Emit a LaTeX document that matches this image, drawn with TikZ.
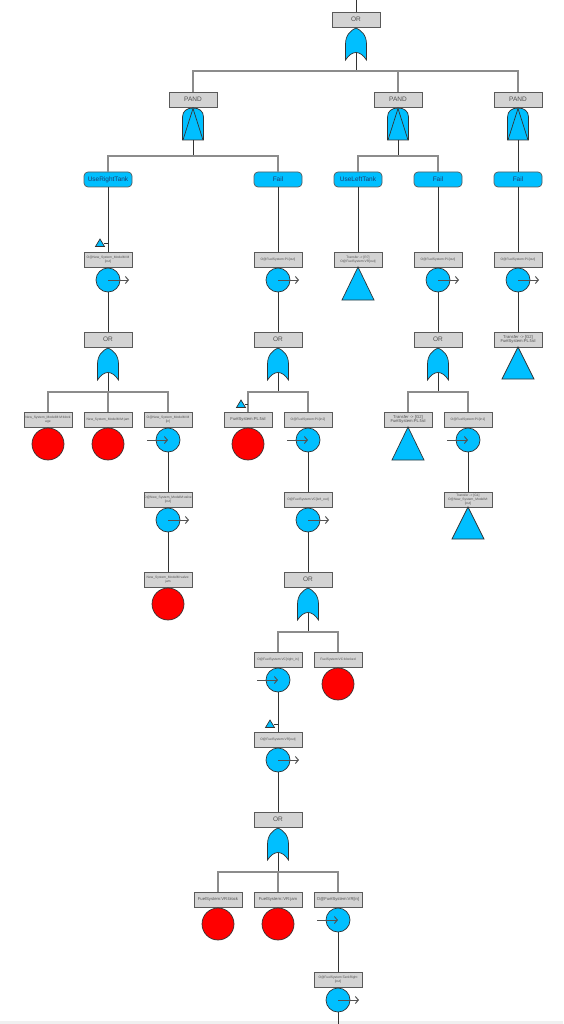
\documentclass[tikz,border=0pt]{standalone}
\usepackage{fontspec}
\setmainfont{Liberation Sans}
\usetikzlibrary{arrows.meta}
\definecolor{gbox}{HTML}{D3D3D3}
\definecolor{blu}{HTML}{00BFFF}
\definecolor{rd}{HTML}{FF0000}
\definecolor{ln}{HTML}{333333}
\definecolor{barc}{HTML}{8C8C8C}
\definecolor{bdr}{HTML}{5A5A5A}
\definecolor{txg}{HTML}{505050}
\definecolor{txb}{HTML}{1C3D6E}
\tikzset{
 gatelbl/.style={draw=bdr, fill=gbox, line width=0.7pt, minimum width=48pt, minimum height=15pt, inner sep=0pt, font=\fontsize{6.5}{7}\selectfont, text=txg},
 evlbl/.style={gatelbl, font=\fontsize{4.2}{4.8}\selectfont, align=center},
 tinylbl/.style={gatelbl, font=\fontsize{3.3}{3.9}\selectfont, align=center},
 condbox/.style={draw=bdr, fill=blu, line width=0.7pt, rounded corners=4pt, minimum width=48pt, minimum height=15pt, inner sep=0pt, font=\fontsize{6.5}{7}\selectfont, text=txb},
 basic/.style={circle, draw=ln, fill=rd, line width=0.7pt, minimum size=32pt, inner sep=0pt},
 port/.style={circle, draw=ln, fill=blu, line width=0.7pt, minimum size=24pt, inner sep=0pt},
 trif/.style={draw=ln, fill=blu, line width=0.7pt, line join=miter},
 stem/.style={draw=ln, line width=1pt},
 barl/.style={draw=barc, line width=1.1pt},
 arr/.style={draw=ln!85, line width=1pt, -{Straight Barb[length=3pt,width=7pt,line width=1pt]}},
 orgate/.pic={\path[draw=ln, fill=blu, line width=0.7pt] (-10.5,32) -- (-10.5,16) .. controls (-10.5,7) and (-5,2) .. (0,0) .. controls (5,2) and (10.5,7) .. (10.5,16) -- (10.5,32) .. controls (4,22) and (-4,22) .. (-10.5,32) -- cycle; \coordinate (-out) at (0,24.5);},
 pandgate/.pic={\path[draw=ln, fill=blu, line width=0.7pt] (-10.5,32) -- (-10.5,9) .. controls (-10.5,3) and (-6,0) .. (0,0) .. controls (6,0) and (10.5,3) .. (10.5,9) -- (10.5,32) -- cycle; \draw[ln, line width=0.7pt] (-10,32) -- (0,0.5) -- (10,32); \coordinate (-out) at (0,32);},
}
\newcommand{\xfertri}[3]{\path[trif] (#1,#2) -- (#1+16,#3) -- (#1-16,#3) -- cycle;}
\newcommand{\mktri}[2]{\path[trif] (#1,#2-4) -- (#1+4.5,#2+3.5) -- (#1-4.5,#2+3.5) -- cycle;}
\begin{document}
\begin{tikzpicture}[x=1pt,y=-1pt]
\useasboundingbox (0,0) rectangle (563,1024);
\fill[gray!12] (0,1021) rectangle (563,1024);
% ---- top OR
\coordinate (top) at (356,0);
\node[gatelbl] (T0) at (356,19.5) {OR};
\pic (g0) at (356,28) {orgate};
\draw[stem] (top) -- (T0.north);
% ---- PAND level
\node[gatelbl] (P1) at (193,99.5) {PAND};
\node[gatelbl] (P2) at (398,99.5) {PAND};
\node[gatelbl] (P3) at (518,99.5) {PAND};
\pic (gp1) at (193,108) {pandgate};
\pic (gp2) at (398,108) {pandgate};
\pic (gp3) at (518,108) {pandgate};
\coordinate (j0) at (356,71);
\draw[stem] (g0-out) -- (j0);
\draw[barl] (j0) -| (P1.north);
\draw[barl] (j0) -| (P2.north);
\draw[barl] (j0) -| (P3.north);
% ---- condition / Fail level
\node[condbox] (URT) at (108,179.5) {UseRightTank};
\node[condbox] (F1) at (278,179.5) {Fail};
\node[condbox] (ULT) at (358,179.5) {UseLeftTank};
\node[condbox] (F2) at (438,179.5) {Fail};
\node[condbox] (F3) at (518,179.5) {Fail};
\coordinate (j1) at (193,156);
\coordinate (j2) at (398,156);
\draw[stem] (gp1-out) -- (j1);
\draw[barl] (j1) -| (URT.north);
\draw[barl] (j1) -| (F1.north);
\draw[stem] (gp2-out) -- (j2);
\draw[barl] (j2) -| (ULT.north);
\draw[barl] (j2) -| (F2.north);
\draw[stem] (gp3-out) -- (F3.north);
% ---- level 3
\node[tinylbl] (B1) at (108,259.5) {O@New\_System\_ModelM:M\\{}[out]};
\node[port] (C1) at (108,280) {};
\node[tinylbl] (B2) at (278,259.5) {O@FuelSystem:P1[out]};
\node[port] (C2) at (278,280) {};
\node[tinylbl] (B3) at (358,259.5) {Transfer -> [R7]\\O@FuelSystem:VR[out]};
\xfertri{358}{267}{300}
\node[tinylbl] (B4) at (438,259.5) {O@FuelSystem:P1[out]};
\node[port] (C4) at (438,280) {};
\node[tinylbl] (B5) at (518,259.5) {O@FuelSystem:P1[out]};
\node[port] (C5) at (518,280) {};
\draw[stem] (URT.south) -- (B1.north);
\draw[stem] (F1.south) -- (B2.north);
\draw[stem] (ULT.south) -- (B3.north);
\draw[stem] (F2.south) -- (B4.north);
\draw[stem] (F3.south) -- (B5.north);
\coordinate (m1) at (104,243); \coordinate (m1e) at (108,243);
\mktri{100}{243}
\draw[stem] (m1) -- (m1e);
\draw[arr] (C1.center) -- ([xshift=21pt]C1.center);
\draw[arr] (C2.center) -- ([xshift=21pt]C2.center);
\draw[arr] (C4.center) -- ([xshift=21pt]C4.center);
\draw[arr] (C5.center) -- ([xshift=21pt]C5.center);
% ---- level 4
\node[gatelbl] (O1) at (108,339.5) {OR};
\pic (go1) at (108,348) {orgate};
\node[gatelbl] (O2) at (278,339.5) {OR};
\pic (go2) at (278,348) {orgate};
\node[gatelbl] (O4) at (438,339.5) {OR};
\pic (go4) at (438,348) {orgate};
\node[evlbl] (B5b) at (518,339.5) {Transfer -> [G2]\\FuelSystem:PL:fail};
\xfertri{518}{347}{379}
\draw[stem] (C1.south) -- (O1.north);
\draw[stem] (C2.south) -- (O2.north);
\draw[stem] (C4.south) -- (O4.north);
\draw[stem] (C5.south) -- (B5b.north);
% ---- level 5
\node[tinylbl] (E1) at (48,419.5) {New\_System\_ModelM:M:block\\age};
\node[basic] (R1) at (48,444) {};
\node[tinylbl] (E2) at (108,419.5) {New\_System\_ModelM:M:jam};
\node[basic] (R2) at (108,444) {};
\node[tinylbl] (E3) at (168,419.5) {O@New\_System\_ModelM:M\\{}[in]};
\node[port] (C3) at (168,440) {};
\node[evlbl] (E4) at (248,419.5) {FuelSystem:PL:fail};
\node[basic] (R4) at (248,444) {};
\node[tinylbl] (E5) at (308,419.5) {O@FuelSystem:P1[in2]};
\node[port] (C6) at (308,440) {};
\node[evlbl] (E6) at (408,419.5) {Transfer -> [G2]\\FuelSystem:PL:fail};
\xfertri{408}{427}{460}
\node[tinylbl] (E7) at (468,419.5) {O@FuelSystem:P1[in1]};
\node[port] (C7) at (468,440) {};
\coordinate (k1) at (108,392);
\coordinate (k2) at (278,392);
\coordinate (k4) at (438,392);
\draw[stem] (go1-out) -- (k1);
\draw[barl] (k1) -| (E1.north);
\draw[barl] (k1) -- (E2.north);
\draw[barl] (k1) -| (E3.north);
\draw[stem] (go2-out) -- (k2);
\draw[barl] (k2) -| (E4.north);
\draw[barl] (k2) -| (E5.north);
\draw[stem] (go4-out) -- (k4);
\draw[barl] (k4) -| (E6.north);
\draw[barl] (k4) -| (E7.north);
\coordinate (m2) at (245,404); \coordinate (m2e) at (248,404);
\mktri{241}{404}
\draw[stem] (m2) -- (m2e);
\draw[arr] ([xshift=-21pt]C3.center) -- (C3.center);
\draw[arr] ([xshift=-21pt]C6.center) -- (C6.center);
\draw[arr] ([xshift=-21pt]C7.center) -- (C7.center);
% ---- level 6
\node[tinylbl] (D1) at (168,499.5) {O@New\_System\_ModelM:valve\\{}[out]};
\node[port] (C8) at (168,520) {};
\node[tinylbl] (D2) at (308,499.5) {O@FuelSystem:VC[left\_out]};
\node[port] (C9) at (308,520) {};
\node[tinylbl] (D3) at (468,499.5) {Transfer -> [G1]\\O@New\_System\_ModelM:\\{}[out]};
\xfertri{468}{507}{539}
\draw[stem] (C3.south) -- (D1.north);
\draw[stem] (C6.south) -- (D2.north);
\draw[stem] (C7.south) -- (D3.north);
\draw[arr] (C8.center) -- ([xshift=21pt]C8.center);
\draw[arr] (C9.center) -- ([xshift=21pt]C9.center);
% ---- level 7
\node[tinylbl] (V1) at (168,579.5) {New\_System\_ModelM:valve:\\jam};
\node[basic] (R5) at (168,604) {};
\node[gatelbl] (O5) at (308,579.5) {OR};
\pic (go5) at (308,588) {orgate};
\draw[stem] (C8.south) -- (V1.north);
\draw[stem] (C9.south) -- (O5.north);
% ---- level 8
\node[tinylbl] (W1) at (278,659.5) {O@FuelSystem:VC[right\_in]};
\node[port] (C10) at (278,680) {};
\node[tinylbl] (W2) at (338,659.5) {FuelSystem:VC:blocked};
\node[basic] (R6) at (338,684) {};
\coordinate (k5) at (308,632);
\draw[stem] (go5-out) -- (k5);
\draw[barl] (k5) -| (W1.north);
\draw[barl] (k5) -| (W2.north);
\draw[arr] ([xshift=-21pt]C10.center) -- (C10.center);
% ---- level 9
\node[tinylbl] (X1) at (278,739.5) {O@FuelSystem:VR[out]};
\node[port] (C11) at (278,760) {};
\draw[stem] (C10.south) -- (X1.north);
\coordinate (m3) at (274,724); \coordinate (m3e) at (278,724);
\mktri{270}{724}
\draw[stem] (m3) -- (m3e);
\draw[arr] (C11.center) -- ([xshift=21pt]C11.center);
% ---- level 10
\node[gatelbl] (O6) at (278,819.5) {OR};
\pic (go6) at (278,828) {orgate};
\draw[stem] (C11.south) -- (O6.north);
% ---- level 11
\node[evlbl] (Y1) at (218,899.5) {FuelSystem:VR:block};
\node[basic] (R7) at (218,924) {};
\node[evlbl] (Y2) at (278,899.5) {FuelSystem::VR:jam};
\node[basic] (R8) at (278,924) {};
\node[evlbl] (Y3) at (338,899.5) {O@FuelSystem:VR[in]};
\node[port] (C12) at (338,920) {};
\coordinate (k6) at (278,872);
\draw[stem] (go6-out) -- (k6);
\draw[barl] (k6) -| (Y1.north);
\draw[barl] (k6) -- (Y2.north);
\draw[barl] (k6) -| (Y3.north);
\draw[arr] ([xshift=-21pt]C12.center) -- (C12.center);
% ---- level 12
\node[tinylbl] (Z1) at (338,979.5) {O@FuelSystem:TankRight\\{}[out]};
\node[port] (C13) at (338,1000) {};
\coordinate (bot) at (338,1024);
\draw[stem] (C12.south) -- (Z1.north);
\draw[stem] (C13.south) -- (bot);
\draw[arr] (C13.center) -- ([xshift=21pt]C13.center);
\end{tikzpicture}
\end{document}
